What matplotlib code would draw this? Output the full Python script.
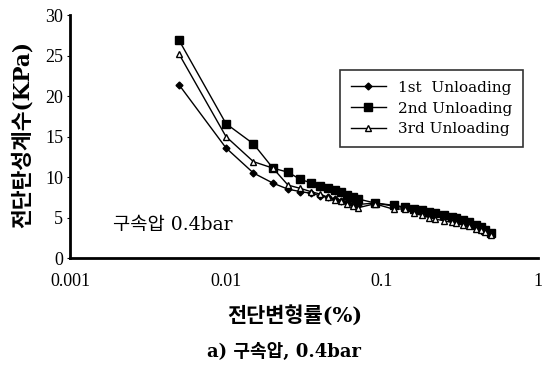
import matplotlib
matplotlib.use("Agg")
import matplotlib.pyplot as plt

# strain (%)
strain = [0.005, 0.01, 0.015, 0.02, 0.025, 0.03, 0.035, 0.04, 0.045, 0.05,
          0.055, 0.06, 0.065, 0.07, 0.09, 0.12, 0.14, 0.16, 0.18, 0.2,
          0.22, 0.25, 0.28, 0.3, 0.33, 0.36, 0.4, 0.43, 0.46, 0.5]
# shear modulus (KPa)
unload1 = [21.4, 13.6, 10.5, 9.25, 8.5, 8.2, 8.0, 7.7, 7.5, 7.3,
           7.1, 6.9, 6.7, 6.6, 6.8, 6.4, 6.2, 6.0, 5.8, 5.6,
           5.4, 5.1, 4.9, 4.8, 4.5, 4.3, 4.0, 3.7, 3.4, 3.1]
unload2 = [26.9, 16.6, 14.1, 11.1, 10.6, 9.7, 9.3, 8.9, 8.7, 8.4,
           8.1, 7.8, 7.5, 7.3, 6.8, 6.5, 6.3, 6.1, 5.9, 5.7,
           5.5, 5.3, 5.1, 5.0, 4.7, 4.4, 4.1, 3.8, 3.5, 3.1]
unload3 = [25.2, 15.0, 11.9, 11.1, 9.0, 8.6, 8.2, 7.9, 7.5, 7.2,
           7.0, 6.7, 6.4, 6.2, 6.7, 6.0, 6.1, 5.5, 5.3, 5.0,
           4.8, 4.6, 4.4, 4.3, 4.1, 3.9, 3.6, 3.4, 3.2, 2.9]
labels = ["1st  Unloading", "2nd Unloading", "3rd Unloading"]
yticks = [0, 5, 10, 15, 20, 25, 30]
xticks = [0.001, 0.01, 0.1, 1]
xticklabels = ["0.001", "0.01", "0.1", "1"]

tickfont = ['Liberation Serif', 'DejaVu Serif']
serif = ['DejaVu Serif', 'Noto Sans CJK KR']

fig = plt.figure(figsize=(5.46, 3.68), dpi=100)
ax = fig.add_axes([0.1282, 0.2989, 0.857, 0.660])

ax.plot(strain, unload1, color='black', lw=1.0, marker='D', ms=3.5,
        mfc='black', mec='black', label=labels[0])
ax.plot(strain, unload2, color='black', lw=1.0, marker='s', ms=5.5,
        mfc='black', mec='black', label=labels[1])
ax.plot(strain, unload3, color='black', lw=1.0, marker='^', ms=5,
        mfc='white', mec='black', label=labels[2])

ax.set_xscale('log')
ax.set_xlim(0.001, 1)
ax.set_ylim(0, 30)
ax.set_xticks(xticks)
ax.set_xticklabels(xticklabels)
ax.minorticks_off()
ax.set_yticks(yticks)
for lab in ax.get_xticklabels() + ax.get_yticklabels():
    lab.set_family(tickfont)
    lab.set_fontsize(13)
ax.tick_params(axis='x', length=0, pad=11)
ax.tick_params(axis='y', length=2, pad=3)

ax.spines['top'].set_visible(False)
ax.spines['right'].set_visible(False)
ax.spines['left'].set_linewidth(2)
ax.spines['bottom'].set_linewidth(2)

ax.set_ylabel("전단탄성계수(KPa)", family=serif, fontsize=15.5, fontweight='bold')
ax.yaxis.set_label_coords(-0.078, 0.51)
fig.text(0.54, 1 - 315 / 368, "전단변형률(%)", family=serif, fontsize=15,
         fontweight='bold', ha='center', va='center')
fig.text(0.52, 1 - 352 / 368, "a) 구속압, 0.4bar", family=serif, fontsize=13,
         fontweight='bold', ha='center', va='center')

ax.text(0.00189, 4.1, "구속압 0.4bar", family=serif, fontsize=13.5, va='center')

leg = ax.legend(loc='upper right', bbox_to_anchor=(0.968, 0.774), borderaxespad=0,
                frameon=True, fancybox=False, edgecolor='black', handlelength=2.3,
                prop={'family': serif, 'size': 11}, borderpad=0.7,
                labelspacing=0.45, handletextpad=0.8)
leg.get_frame().set_linewidth(1.2)

fig.savefig("out.png", dpi=100)
